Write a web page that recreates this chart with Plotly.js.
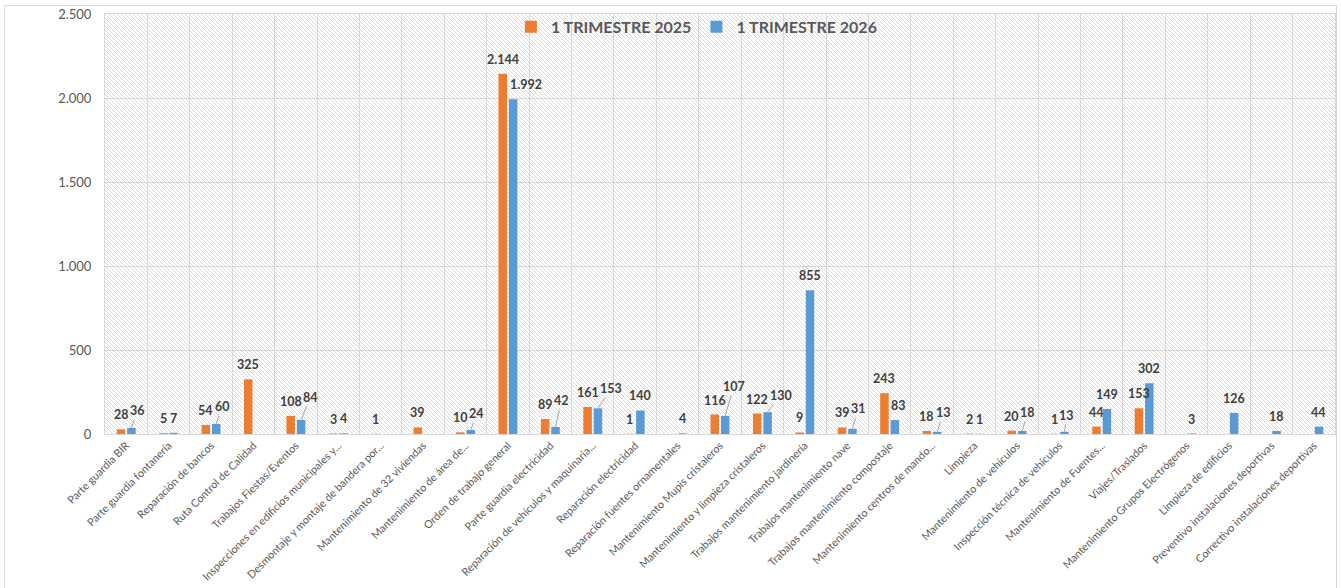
<!DOCTYPE html>
<html>
<head>
<meta charset="utf-8">
<script src="https://cdn.plot.ly/plotly-3.0.1.min.js"></script>
<style>
  html, body { margin: 0; padding: 0; background: #ffffff; }
  #wrap { position: relative; width: 1341px; height: 588px; overflow: hidden; }
  #hatch { position: absolute; left: 105px; top: 14px; width: 1230px; height: 420px; z-index: 0;
    background-color: #ffffff;
    background-image: url("data:image/svg+xml,%3Csvg xmlns='http://www.w3.org/2000/svg' width='4' height='4' shape-rendering='crispEdges'%3E%3Crect x='0' y='0' width='1' height='1' fill='%23dcdcdc'/%3E%3Crect x='1' y='1' width='1' height='1' fill='%23dcdcdc'/%3E%3Crect x='2' y='2' width='1' height='1' fill='%23dcdcdc'/%3E%3Crect x='3' y='3' width='1' height='1' fill='%23dcdcdc'/%3E%3C/svg%3E");
    background-size: 4px 4px; image-rendering: pixelated; }
  #chart { position: absolute; left: 0; top: 0; width: 1341px; height: 588px; z-index: 1; }
  #frame { position: absolute; left: 4px; top: 5px; width: 1331px; height: 600px; border: 1px solid #d9d9d9; z-index: 2; pointer-events: none; }
</style>
</head>
<body>
<div id="wrap">
  <div id="hatch"></div>
  <div id="chart"></div>
  <div id="frame"></div>
</div>
<script>
const categories = [
  "Parte guardia BIR",
  "Parte guardia fontanería",
  "Reparación de bancos",
  "Ruta Control de Calidad",
  "Trabajos Fiestas/Eventos",
  "Inspecciones en edificios municipales y...",
  "Desmontaje y montaje de bandera por...",
  "Mantenimiento de 32 viviendas",
  "Mantenimiento de área de...",
  "Orden de trabajo general",
  "Parte guardia electricidad",
  "Reparación de vehículos y maquinaria...",
  "Reparación electricidad",
  "Reparación fuentes ornamentales",
  "Mantenimiento Mupis cristaleros",
  "Mantenimiento y limpieza cristaleros",
  "Trabajos mantenimiento jardinería",
  "Trabajos mantenimiento nave",
  "Trabajos mantenimiento compostaje",
  "Mantenimiento centros de mando...",
  "Limpieza",
  "Mantenimiento de vehículos",
  "Inspección técnica de vehículos",
  "Mantenimiento de Fuentes...",
  "Viajes/Traslados",
  "Mantenimiento Grupos Electrógenos",
  "Limpieza de edificios",
  "Preventivo instalaciones deportivas",
  "Correctivo instalaciones deportivas"
];
const series2025Name = "1 TRIMESTRE 2025";
const series2026Name = "1 TRIMESTRE 2026";
const values2025 = [28, 5, 54, 325, 108, 3, 1, 39, 10, 2144, 89, 161, 1, null, 116, 122, 9, 39, 243, 18, 2, 20, 1, 44, 153, null, null, null, null];
const values2026 = [36, 7, 60, null, 84, 4, null, null, 24, 1992, 42, 153, 140, 4, 107, 130, 855, 31, 83, 13, 1, 18, 13, 149, 302, 3, 126, 18, 44];
const yTicks = [0, 500, 1000, 1500, 2000, 2500];
const yMax = 2500;

const W = 1341, H = 588;
const M = { l: 105, r: 6, t: 14, b: 154 };
const BARGAP = 0.51, BARGROUPGAP = 0.18;
const plotW = W - M.l - M.r, plotH = H - M.t - M.b;
const catW = plotW / categories.length;
const barOff = catW * (1 - BARGAP) / 4;      // px from category centre to each bar centre
const barW = 2 * barOff * (1 - BARGROUPGAP);  // px bar width
const ppu = plotH / yMax;                     // px per unit

const labelFont = { family: "Lato, 'Open Sans', sans-serif", size: 12.5, color: "#404040", weight: 700 };

function fmt(v) {
  return String(v).replace(/\B(?=(\d{3})+(?!\d))/g, ".");
}
function textW(s) {
  let w = 0;
  for (const ch of s) w += (ch === "." ? 3.2 : 7.1);
  return w;
}

const data = [
  { type: "bar", name: series2025Name, x: categories, y: values2025, marker: { color: "#ED7D31" }, hoverinfo: "x+y+name" },
  { type: "bar", name: series2026Name, x: categories, y: values2026, marker: { color: "#5B9BD5" }, hoverinfo: "x+y+name" }
];

const annotations = [];
const LIFT = 5;     // gap between bar top and label bottom
const LH = 15;      // label height
categories.forEach((cat, i) => {
  const a = values2025[i], b = values2026[i];
  let hA = null, wA = 0;
  if (a !== null) {
    const s = fmt(a);
    wA = textW(s);
    hA = a * ppu + LIFT;
    annotations.push({ x: cat, y: a, xref: "x", yref: "y", text: s, showarrow: false,
      xshift: -barOff, yshift: LIFT, yanchor: "bottom", xanchor: "center", font: labelFont });
  }
  if (b !== null) {
    const s = fmt(b);
    const wB = textW(s);
    const hB = b * ppu + LIFT;
    const needX = (wA + wB) / 2 + 1 - 2 * barOff;
    const overlap = hA !== null && needX > 0 && Math.abs(hA - hB) < LH;
    if (!overlap) {
      let xs = barOff;
      // keep the label off a taller neighbouring bar
      if (hA !== null && a * ppu > hB && barOff - wB / 2 < -barOff + barW / 2 + 2) {
        xs = -barOff + barW / 2 + 3 + wB / 2;
      }
      annotations.push({ x: cat, y: b, xref: "x", yref: "y", text: s, showarrow: false,
        xshift: xs, yshift: LIFT, yanchor: "bottom", xanchor: "center", font: labelFont });
    } else {
      let dx = needX + 1;
      let centreH = Math.max(hB, hA + 6) + LH / 2;
      // keep clear of the next category's first label
      const nxt = i + 1 < categories.length ? values2025[i + 1] : null;
      if (nxt !== null) {
        const wN = textW(fmt(nxt));
        const maxDx = catW - barOff - wN / 2 - 2 - wB / 2 - barOff;
        const hN = nxt * ppu + LIFT;
        if (dx > maxDx && Math.abs(hN + LH / 2 - centreH) < LH) {
          dx = Math.max(maxDx, 2);
          centreH = hA + LH + LH / 2 + 1;
        }
      }
      annotations.push({ x: cat, y: b, xref: "x", yref: "y", text: s, showarrow: true,
        arrowhead: 0, arrowwidth: 1, arrowcolor: "#a6a6a6", standoff: 0, startstandoff: 0,
        ax: dx, ay: -(centreH - b * ppu), axref: "pixel", ayref: "pixel",
        xshift: barOff, font: labelFont });
    }
  }
});

const layout = {
  width: W,
  height: H,
  margin: { l: M.l, r: M.r, t: M.t, b: M.b, pad: 0 },
  paper_bgcolor: "rgba(0,0,0,0)",
  plot_bgcolor: "rgba(0,0,0,0)",
  separators: ",.",
  font: { family: "Lato, 'Open Sans', sans-serif", color: "#595959" },
  barmode: "group",
  bargap: BARGAP,
  bargroupgap: BARGROUPGAP,
  showlegend: true,
  legend: {
    orientation: "h",
    x: 0.330, xanchor: "left",
    y: 1.01, yanchor: "top",
    bgcolor: "rgba(255,255,255,0)",
    font: { size: 16, color: "#595959", weight: 700 },
    itemwidth: 30,
    traceorder: "normal"
  },
  annotations: annotations,
  xaxis: {
    type: "category",
    tickson: "boundaries",
    showgrid: true,
    gridcolor: "#d9d9d9",
    gridwidth: 1,
    ticks: "",
    tickangle: -45,
    tickfont: { size: 10.8, color: "#595959" },
    showline: true,
    linecolor: "#d9d9d9",
    linewidth: 1,
    mirror: true,
    zeroline: false,
    range: [-0.5, categories.length - 0.5],
    automargin: false
  },
  yaxis: {
    range: [0, yMax],
    tickvals: yTicks,
    tickformat: ",d",
    showgrid: true,
    gridcolor: "#d9d9d9",
    gridwidth: 1,
    ticks: "",
    ticklabelstandoff: 10,
    tickfont: { size: 13, color: "#595959" },
    showline: true,
    linecolor: "#d9d9d9",
    linewidth: 1,
    mirror: true,
    zeroline: false,
    automargin: false
  }
};

Plotly.newPlot("chart", data, layout, { displayModeBar: false, staticPlot: true });
</script>
</body>
</html>
